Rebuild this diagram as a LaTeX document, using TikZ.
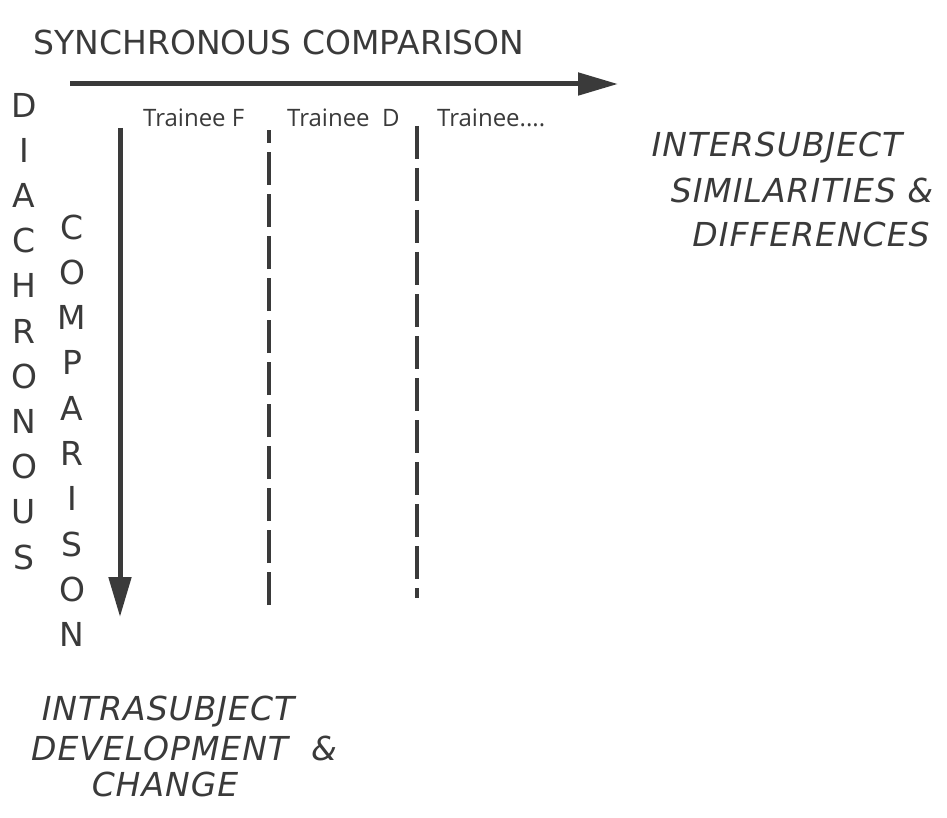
\documentclass[tikz,border=0pt]{standalone}
\usepackage{fontspec}
\setmainfont{DejaVu Sans}
\newfontfamily\bigfont{DejaVu Sans}
\newfontfamily\obfont[LetterSpace=3]{DejaVu Sans Oblique}
\newfontfamily\smallfont{Open Sans}
\usetikzlibrary{arrows.meta}
\definecolor{ink}{HTML}{3A3A3A}
\tikzset{
  bigtext/.style={inner sep=0pt, text=ink, font=\bigfont\fontsize{33}{40}\selectfont},
  obtext/.style={inner sep=0pt, text=ink, font=\obfont\fontsize{33}{40}\selectfont},
  trlabel/.style={inner sep=0pt, anchor=base west, text=ink, font=\smallfont\fontsize{24}{29}\selectfont},
  axisarrow/.style={draw=ink, line width=5pt, -{Triangle[length=40pt,width=22pt]}},
  divider/.style={draw=ink, line width=3.5pt, dash pattern=on 33pt off 9pt}
}
\begin{document}
\begin{tikzpicture}[x=1pt,y=-1pt]
\useasboundingbox (0,0) rectangle (947,818);
% title
\node[bigtext] (title) at (279,42) {SYNCHRONOUS COMPARISON};
% axes
\coordinate (hs) at (70,84);
\coordinate (he) at (618,84);
\draw[axisarrow] (hs) -- (he);
\coordinate (vs) at (120,128);
\coordinate (ve) at (120,617);
\draw[axisarrow] (vs) -- (ve);
% dividers
\coordinate (l1b) at (269,605);
\coordinate (l1t) at (269,130);
\draw[divider] (l1b) -- (l1t);
\coordinate (l2t) at (417,126);
\coordinate (l2b) at (417,598);
\draw[divider] (l2t) -- (l2b);
% trainee labels
\node[trlabel] (tf) at (143,127) {Trainee F};
\node[trlabel] (td) at (287,127) {Trainee\ \ D};
\node[trlabel] (tx) at (437,127) {Trainee....};
% vertical words
\foreach \l [count=\i] in {D,I,A,C,H,R,O,N,O,U,S}
  \node[bigtext] (d\i) at (24,{105+45.2*(\i-1)}) {\l};
\foreach \l [count=\i] in {C,O,M,P,A,R,I,S,O,N}
  \node[bigtext] (c\i) at (72,{227+45.3*(\i-1)}) {\l};
% right labels
\node[obtext] (inter1) at (777,148) {INTERSUBJECT};
\node[obtext] (inter2) at (802,190) {SIMILARITIES \&};
\node[obtext] (inter3) at (811,234) {DIFFERENCES};
% bottom labels
\node[obtext] (intra1) at (168,712) {INTRASUBJECT};
\node[obtext] (intra2) at (184,748) {DEVELOPMENT\ \ \&};
\node[obtext] (intra3) at (165,784) {CHANGE};
\end{tikzpicture}
\end{document}
